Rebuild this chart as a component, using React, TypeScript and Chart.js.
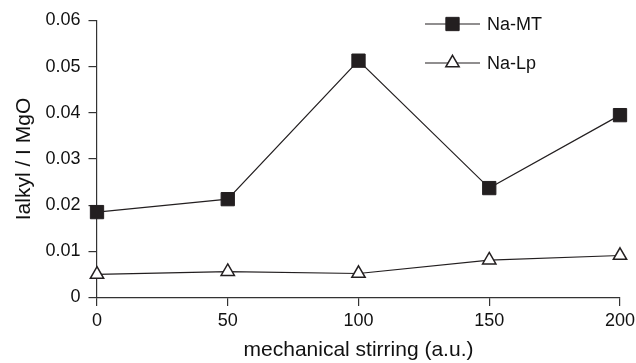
import React, { useEffect, useRef } from 'react';
import { Chart, registerables } from 'chart.js';

Chart.register(...registerables);

const stirring = [0, 50, 100, 150, 200];
const naMT = [0.0185, 0.0213, 0.0513, 0.0237, 0.0395];
const naLp = [0.005, 0.0056, 0.0052, 0.0081, 0.0091];
const xTickValues = [0, 50, 100, 150, 200];
const yTickValues = [0, 0.01, 0.02, 0.03, 0.04, 0.05, 0.06];
const seriesNames = ['Na-MT', 'Na-Lp'];
const xTitle = 'mechanical stirring (a.u.)';
const yTitle = 'Ialkyl / I MgO';

const INK = '#231f20';
const FONT = "'Liberation Sans', Arial, sans-serif";

const lineLegend = {
  id: 'lineLegend',
  afterDraw(chart: any) {
    const ctx = chart.ctx as CanvasRenderingContext2D;
    const area = chart.chartArea;
    const x0 = area.right - 195;
    const x1 = area.right - 140;
    const mx = (x0 + x1) / 2;
    const tx = area.right - 133;
    const rows = [area.top + 3.5, area.top + 42.5];
    chart.data.datasets.forEach((ds: any, i: number) => {
      const y = rows[i];
      ctx.save();
      ctx.strokeStyle = ds.borderColor;
      ctx.lineWidth = 1.2;
      ctx.beginPath();
      ctx.moveTo(x0, y);
      ctx.lineTo(x1, y);
      ctx.stroke();
      ctx.fillStyle = ds.pointBackgroundColor;
      ctx.strokeStyle = ds.pointBorderColor;
      ctx.lineWidth = ds.pointBorderWidth;
      if (ds.pointStyle === 'rect') {
        const s = ds.pointRadius * Math.SQRT1_2;
        ctx.beginPath();
        ctx.rect(mx - s, y - s, 2 * s, 2 * s);
        ctx.fill();
        ctx.stroke();
      } else {
        const r = ds.pointRadius;
        ctx.beginPath();
        for (let k = 0; k < 3; k++) {
          const a = (k * 2 * Math.PI) / 3;
          const px = mx + Math.sin(a) * r;
          const py = y - Math.cos(a) * r;
          if (k === 0) ctx.moveTo(px, py);
          else ctx.lineTo(px, py);
        }
        ctx.closePath();
        ctx.fill();
        ctx.stroke();
      }
      ctx.fillStyle = '#111';
      ctx.font = `18px ${FONT}`;
      ctx.textBaseline = 'middle';
      ctx.textAlign = 'left';
      ctx.fillText(ds.label, tx, y + 1);
      ctx.restore();
    });
  },
};

export default function App() {
  const ref = useRef<HTMLCanvasElement | null>(null);

  useEffect(() => {
    document.body.style.margin = '0';
    const canvas = ref.current;
    if (!canvas) return;
    const chart = new Chart(canvas, {
      type: 'line',
      data: {
        datasets: [
          {
            label: seriesNames[0],
            data: stirring.map((x, i) => ({ x, y: naMT[i] })),
            borderColor: INK,
            borderWidth: 1.2,
            pointStyle: 'rect',
            pointRadius: 9.4,
            pointHoverRadius: 9.4,
            pointBackgroundColor: INK,
            pointBorderColor: INK,
            pointBorderWidth: 1,
            tension: 0,
            clip: false,
          },
          {
            label: seriesNames[1],
            data: stirring.map((x, i) => ({ x, y: naLp[i] })),
            borderColor: INK,
            borderWidth: 1.2,
            pointStyle: 'triangle',
            pointRadius: 7.7,
            pointHoverRadius: 7.7,
            pointBackgroundColor: '#ffffff',
            pointBorderColor: INK,
            pointBorderWidth: 1.5,
            tension: 0,
            clip: false,
          },
        ],
      },
      options: {
        responsive: false,
        animation: false,
        devicePixelRatio: 1,
        layout: { padding: { left: 0, right: 16, top: 20.5, bottom: 0 } },
        plugins: {
          legend: { display: false },
          tooltip: { enabled: false },
        },
        scales: {
          x: {
            type: 'linear',
            min: 0,
            max: 200,
            afterBuildTicks: (scale: any) => {
              scale.ticks = xTickValues.map((v) => ({ value: v }));
            },
            afterFit: (scale: any) => {
              scale.height = 65.5;
              scale.paddingRight = 0;
              scale.paddingLeft = 0;
            },
            grid: {
              drawOnChartArea: false,
              drawTicks: true,
              tickLength: 8.5,
              color: '#333',
              lineWidth: 1.2,
            },
            border: { display: true, color: '#333', width: 1.2 },
            ticks: {
              color: '#111',
              font: { family: FONT, size: 18 },
              padding: 4.5,
              maxRotation: 0,
              callback: (v: any) => String(v),
            },
            title: {
              display: true,
              text: xTitle,
              color: '#111',
              font: { family: FONT, size: 21 },
              padding: { top: 0, bottom: 0 },
            },
          },
          y: {
            type: 'linear',
            min: 0,
            max: 0.06,
            afterBuildTicks: (scale: any) => {
              scale.ticks = yTickValues.map((v) => ({ value: v }));
            },
            afterFit: (scale: any) => {
              scale.width = 97;
            },
            grid: {
              drawOnChartArea: false,
              drawTicks: true,
              tickLength: 8.5,
              color: '#333',
              lineWidth: 1.2,
            },
            border: { display: true, color: '#333', width: 1.2 },
            ticks: {
              color: '#111',
              font: { family: FONT, size: 18 },
              padding: 8,
              callback: (v: any) => (Number(v) === 0 ? '0' : Number(v).toFixed(2)),
            },
            title: {
              display: true,
              text: yTitle,
              color: '#111',
              font: { family: FONT, size: 21 },
              padding: { top: 11.5, bottom: 0 },
            },
          },
        },
      },
      plugins: [lineLegend],
    });
    return () => chart.destroy();
  }, []);

  return (
    <div style={{ position: 'absolute', left: 0, top: 0, width: 636, height: 363, background: '#fff' }}>
      <canvas ref={ref} width={636} height={363} />
    </div>
  );
}
